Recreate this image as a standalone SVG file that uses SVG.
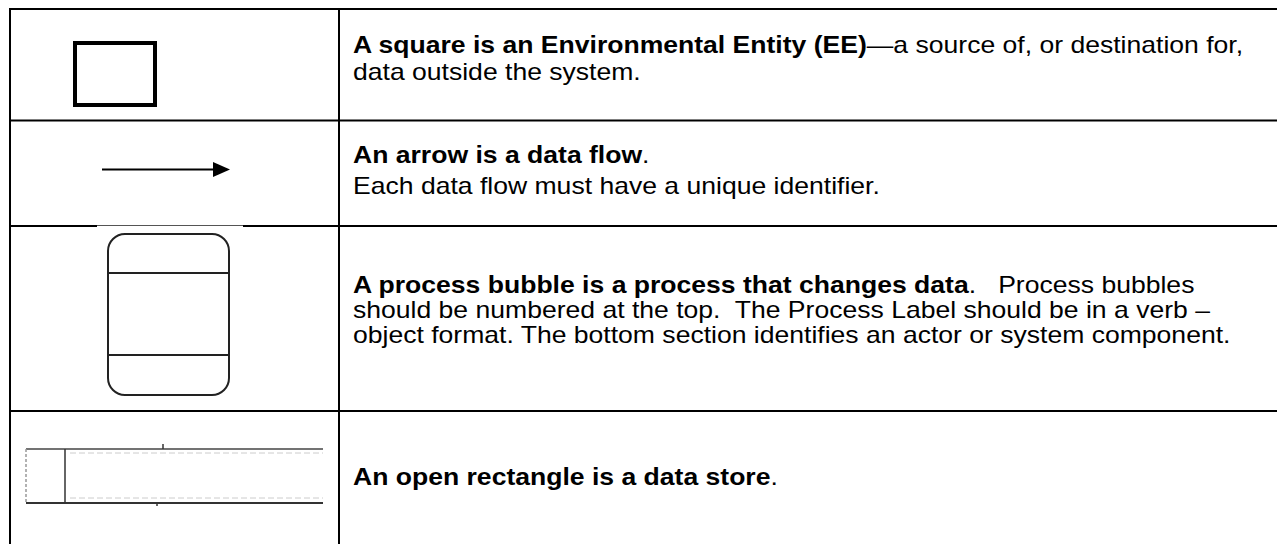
<svg xmlns="http://www.w3.org/2000/svg" width="1277" height="544" viewBox="0 0 1277 544">
  <style>
    .grid { stroke: #000; stroke-width: 2; fill: none; }
    .sym { stroke: #222; stroke-width: 2; fill: none; }
    .txt { font-family: "Liberation Sans", Arial, sans-serif; font-size: 23px; fill: #000; white-space: pre; }
    .b { font-weight: bold; }
  </style>
  <defs>
    <marker id="arrowhead" markerWidth="18" markerHeight="16" refX="0" refY="7.5" orient="auto" markerUnits="userSpaceOnUse">
      <path d="M0,0 L17,7.5 L0,15 Z" fill="#000"/>
    </marker>
  </defs>
  <rect width="1277" height="544" fill="#fff"/>

  <!-- table rules -->
  <g id="table">
    <line class="grid" x1="9" y1="9" x2="1277" y2="9"/>
    <line class="grid" x1="10" y1="8" x2="10" y2="544"/>
    <line class="grid" x1="339" y1="8" x2="339" y2="544"/>
    <line class="grid" x1="9" y1="120.5" x2="1277" y2="120.5"/>
    <line class="grid" x1="9" y1="226" x2="97" y2="226"/>
    <line x1="97" y1="225.5" x2="243" y2="225.5" stroke="#555" stroke-width="1"/>
    <line class="grid" x1="243" y1="226" x2="1277" y2="226"/>
    <line class="grid" x1="9" y1="411" x2="1277" y2="411"/>
  </g>

  <!-- environmental entity -->
  <g id="ee-symbol">
    <rect x="75" y="43" width="80" height="62" fill="none" stroke="#000" stroke-width="4"/>
  </g>

  <!-- data flow sample -->
  <g id="connectors">
    <line x1="102" y1="169.5" x2="213" y2="169.5" stroke="#000" stroke-width="2" marker-end="url(#arrowhead)"/>
  </g>

  <!-- process bubble -->
  <g id="process-bubble">
    <rect class="sym" x="108" y="234" width="121" height="161" rx="17" ry="17"/>
    <line class="sym" x1="108" y1="273" x2="229" y2="273"/>
    <line class="sym" x1="108" y1="355" x2="229" y2="355"/>
  </g>

  <!-- data store -->
  <g id="data-store">
    <line x1="26" y1="449" x2="323" y2="449" stroke="#444" stroke-width="1.5"/>
    <line x1="26" y1="503" x2="323" y2="503" stroke="#333" stroke-width="2"/>
    <line x1="26" y1="449" x2="26" y2="503" stroke="#999" stroke-width="1.5" stroke-dasharray="3 2"/>
    <line x1="65" y1="449" x2="65" y2="503" stroke="#333" stroke-width="1.5"/>
    <line x1="163" y1="444" x2="163" y2="449" stroke="#333" stroke-width="1.5"/>
    <line x1="157" y1="503" x2="157" y2="506" stroke="#333" stroke-width="1.5"/>
    <line x1="70" y1="453" x2="323" y2="453" stroke="#ccc" stroke-width="1" stroke-dasharray="6 3"/>
    <line x1="70" y1="498" x2="323" y2="498" stroke="#ccc" stroke-width="1" stroke-dasharray="6 3"/>
  </g>

  <!-- descriptions -->
  <g id="desc-ee" transform="translate(353,0) scale(1.155,1)">
    <text class="txt" x="0" y="53.5"><tspan class="b">A square is an Environmental Entity (EE)</tspan>—a source of, or destination for,</text>
    <text class="txt" x="0" y="80">data outside the system.</text>
  </g>
  <g id="desc-flow" transform="translate(353,0) scale(1.155,1)">
    <text class="txt" x="0" y="163.5"><tspan class="b">An arrow is a data flow</tspan>.</text>
    <text class="txt" x="0" y="194">Each data flow must have a unique identifier.</text>
  </g>
  <g id="desc-process" transform="translate(353,0) scale(1.155,1)">
    <text class="txt" x="0" y="293.5"><tspan class="b">A process bubble is a process that changes data</tspan>.   Process bubbles</text>
    <text class="txt" x="0" y="318.5">should be numbered at the top.  The Process Label should be in a verb –</text>
    <text class="txt" x="0" y="343.5">object format. The bottom section identifies an actor or system component.</text>
  </g>
  <g id="desc-store" transform="translate(353,0) scale(1.155,1)">
    <text class="txt" x="0" y="485"><tspan class="b">An open rectangle is a data store</tspan>.</text>
  </g>
</svg>
